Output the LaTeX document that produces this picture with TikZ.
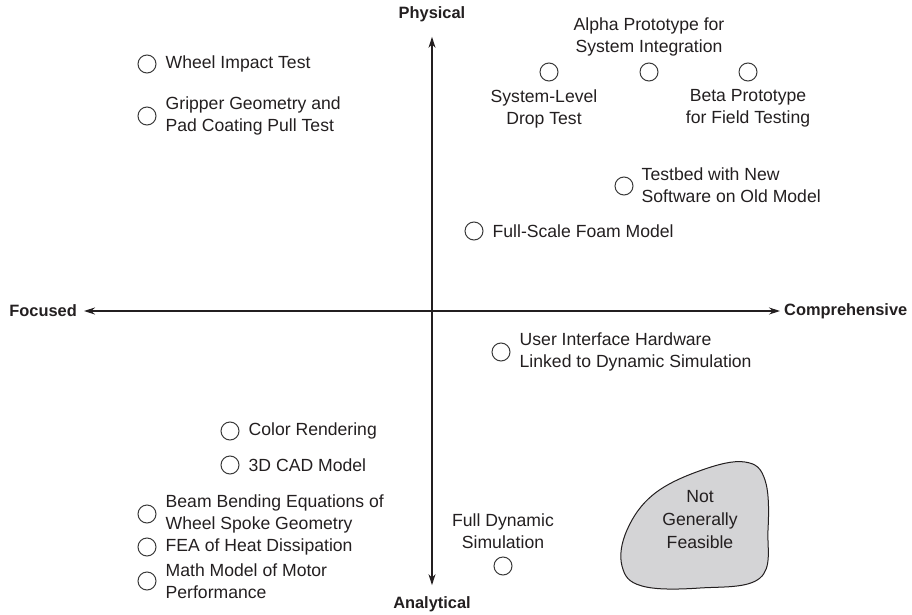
\documentclass[tikz,border=0pt]{standalone}
\usepackage{fontspec}
\setmainfont{Liberation Sans}
\usetikzlibrary{arrows.meta,positioning}
\definecolor{chartink}{HTML}{231F20}
\definecolor{chartring}{HTML}{3A3A3A}
\definecolor{chartblob}{HTML}{D4D4D6}

\begin{document}
\begin{tikzpicture}[
  x=1pt,
  y=-1pt,
  every node/.style={font=\fontsize{17.6}{22}\selectfont, text=chartink},
  axislabel/.style={font=\fontsize{16.4}{20}\selectfont\bfseries, inner sep=0pt},
  axis/.style={chartink, line width=1.1pt,
    {Stealth[length=11pt, width=7pt]}-{Stealth[length=11pt, width=7pt]}},
  proto/.style={circle, draw=chartring, line width=1pt, minimum size=18pt, inner sep=0pt},
  tag/.style={align=left, inner sep=0pt},
  ctag/.style={align=center, inner sep=0pt},
  blob/.style={draw=chartink, fill=chartblob, line width=1pt}
]
  \useasboundingbox (0,0) rectangle (912,615);

  %% ---- axes -----------------------------------------------------------
  \node[axislabel, anchor=east] (focused) at (77,311) {Focused};
  \node[axislabel, anchor=west] (compr) at (784,311) {Comprehensive};
  \node[axislabel] (physical) at (432,14) {Physical};
  \node[axislabel] (analytical) at (432,604) {Analytical};

  \draw[axis, shorten <=7pt, shorten >=4pt] (focused) -- (compr);
  \draw[axis, shorten <=15pt, shorten >=11pt] (physical) -- (analytical);

  %% ---- upper left -----------------------------------------------------
  \node[proto] (wheel) at (147,64) {};
  \node[tag, right=9pt of wheel] (wheeltag) {Wheel Impact Test};

  \node[proto] (gripper) at (147,116) {};
  \node[tag, right=9pt of gripper] (grippertag)
    {Gripper Geometry and\\Pad Coating Pull Test};

  %% ---- upper right ----------------------------------------------------
  \node[proto] (drop) at (549,72) {};
  \node[ctag, below=8pt of drop, xshift=-5pt] (droptag)
    {System-Level\\Drop Test};

  \node[proto] (alpha) at (649,72) {};
  \node[ctag, above=6pt of alpha] (alphatag)
    {Alpha Prototype for\\System Integration};

  \node[proto] (beta) at (748,72) {};
  \node[ctag, below=8pt of beta] (betatag)
    {Beta Prototype\\for Field Testing};

  \node[proto] (testbed) at (624,186) {};
  \node[tag, right=8pt of testbed, yshift=1pt] (testbedtag)
    {Testbed with New\\Software on Old Model};

  \node[proto] (foam) at (474,231) {};
  \node[tag, right=9pt of foam] (foamtag) {Full-Scale Foam Model};

  %% ---- lower right ----------------------------------------------------
  \node[proto] (ui) at (501,352) {};
  \node[tag, right=9pt of ui] (uitag)
    {User Interface Hardware\\Linked to Dynamic Simulation};

  \node[proto] (dynsim) at (503,566) {};
  \node[ctag, above=8pt of dynsim] (dynsimtag)
    {Full Dynamic\\Simulation};

  \draw[blob] plot[smooth cycle, tension=0.65] coordinates {
    (745,462) (765,480) (768,530) (760,578) (700,588)
    (642,586) (622,566) (627,530) (654,494) (702,470)};
  \node[ctag, font=\fontsize{17.6}{23}\selectfont] (nogo) at (700,520)
    {Not\\Generally\\Feasible};

  %% ---- lower left -----------------------------------------------------
  \node[proto] (color) at (230,431) {};
  \node[tag, right=9pt of color] (colortag) {Color Rendering};

  \node[proto] (cad) at (230,465) {};
  \node[tag, right=9pt of cad] (cadtag) {3D CAD Model};

  \node[proto] (beam) at (147,514) {};
  \node[tag, right=9pt of beam] (beamtag)
    {Beam Bending Equations of\\Wheel Spoke Geometry};

  \node[proto] (fea) at (147,547) {};
  \node[tag, right=9pt of fea] (featag) {FEA of Heat Dissipation};

  \node[proto] (motor) at (147,581) {};
  \node[tag, right=9pt of motor] (motortag)
    {Math Model of Motor\\Performance};

\end{tikzpicture}
\end{document}
